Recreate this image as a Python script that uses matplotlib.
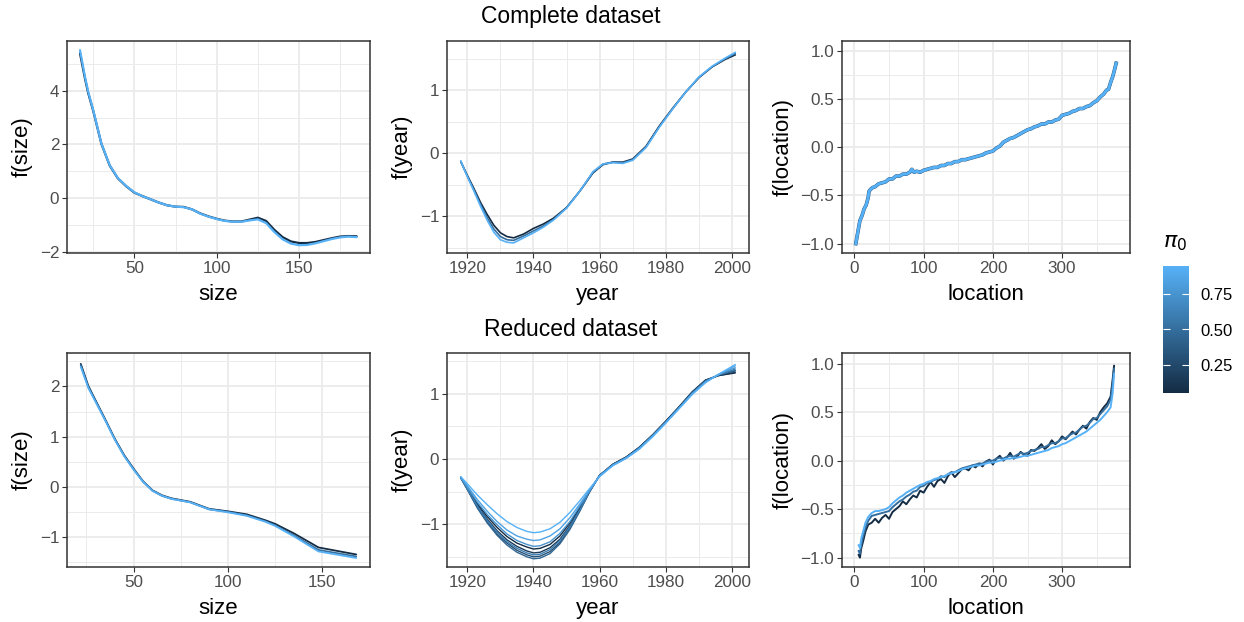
import numpy as np
import matplotlib.pyplot as plt
from matplotlib.colors import LinearSegmentedColormap, Normalize
from matplotlib.cm import ScalarMappable
from matplotlib.ticker import MultipleLocator

plt.rcParams['font.family'] = ['Liberation Sans', 'DejaVu Sans']

# ---------------- data ----------------
# complete dataset, f(size)
size_full_x = [17, 20, 22, 25, 30, 35, 40, 45, 50, 55, 60, 65, 70, 75, 80, 85, 90, 95, 100, 105,
               110, 115, 120, 125, 130, 135, 140, 145, 150, 155, 160, 165, 170, 175, 180, 185]
size_full_pi0 = [0.05, 0.95]
size_full_y = [
    [5.38, 4.45, 3.90, 3.25, 2.02, 1.22, 0.74, 0.45, 0.21, 0.08, -0.04, -0.16, -0.26, -0.31, -0.32, -0.41,
     -0.56, -0.67, -0.76, -0.83, -0.86, -0.86, -0.79, -0.72, -0.84, -1.17, -1.44, -1.60, -1.66, -1.66,
     -1.62, -1.55, -1.48, -1.42, -1.40, -1.41],
    [5.50, 4.52, 3.95, 3.28, 2.03, 1.23, 0.75, 0.46, 0.22, 0.08, -0.04, -0.16, -0.26, -0.31, -0.33, -0.41,
     -0.57, -0.68, -0.77, -0.84, -0.87, -0.87, -0.82, -0.78, -0.92, -1.25, -1.52, -1.68, -1.74, -1.73,
     -1.67, -1.59, -1.51, -1.45, -1.42, -1.44],
]

# complete dataset, f(year)
year_full_x = [1918, 1920, 1922, 1924, 1926, 1928, 1930, 1932, 1934, 1937, 1940, 1943, 1946, 1950,
               1954, 1958, 1961, 1964, 1967, 1970, 1974, 1978, 1982, 1986, 1990, 1994, 1998, 2001]
year_full_pi0 = [0.05, 0.5, 0.95]
year_full_y = [
    [-0.13, -0.35, -0.56, -0.78, -0.97, -1.14, -1.26, -1.32, -1.34, -1.28, -1.19, -1.12, -1.03, -0.86,
     -0.60, -0.31, -0.18, -0.14, -0.14, -0.09, 0.11, 0.43, 0.71, 0.97, 1.20, 1.37, 1.49, 1.56],
    [-0.13, -0.36, -0.58, -0.81, -1.02, -1.20, -1.32, -1.37, -1.38, -1.31, -1.23, -1.15, -1.05, -0.86,
     -0.60, -0.30, -0.17, -0.14, -0.15, -0.10, 0.10, 0.42, 0.70, 0.97, 1.20, 1.37, 1.50, 1.58],
    [-0.12, -0.37, -0.60, -0.84, -1.06, -1.25, -1.37, -1.41, -1.42, -1.34, -1.26, -1.17, -1.06, -0.87,
     -0.60, -0.29, -0.17, -0.15, -0.16, -0.11, 0.09, 0.41, 0.70, 0.97, 1.21, 1.38, 1.51, 1.60],
]

# complete dataset, f(location)
loc_full_x = [2, 4, 6, 8, 11, 14, 17, 20, 21, 23, 26, 30, 35, 40, 45, 50, 55, 60, 65, 70, 75, 80, 83,
              86, 90, 95, 100, 105, 110, 115, 120, 125, 130, 135, 140, 145, 150, 155, 160, 165, 170,
              175, 180, 185, 190, 195, 200, 205, 210, 215, 220, 225, 230, 235, 240, 245, 250, 255,
              260, 265, 270, 275, 280, 285, 290, 295, 300, 305, 310, 315, 320, 325, 330, 335, 340,
              345, 350, 355, 360, 364, 367, 370, 373, 376, 378]
loc_full_y = [-1.00, -0.92, -0.84, -0.76, -0.71, -0.64, -0.60, -0.52, -0.46, -0.44, -0.42, -0.41, -0.38,
              -0.37, -0.36, -0.33, -0.33, -0.30, -0.30, -0.28, -0.28, -0.26, -0.23, -0.26, -0.25, -0.26,
              -0.24, -0.23, -0.22, -0.21, -0.21, -0.19, -0.19, -0.17, -0.17, -0.15, -0.15, -0.13, -0.13,
              -0.12, -0.11, -0.10, -0.09, -0.08, -0.06, -0.05, -0.04, -0.01, 0.01, 0.05, 0.07, 0.09,
              0.10, 0.12, 0.14, 0.16, 0.18, 0.19, 0.21, 0.22, 0.24, 0.24, 0.26, 0.26, 0.28, 0.29, 0.33,
              0.34, 0.35, 0.37, 0.38, 0.40, 0.40, 0.42, 0.43, 0.46, 0.48, 0.52, 0.55, 0.59, 0.60, 0.67,
              0.73, 0.81, 0.87]

# reduced dataset, f(size)
size_red_x = [22, 26, 30, 35, 40, 45, 50, 55, 60, 65, 70, 80, 90, 100, 110, 120, 125, 135, 148, 168]
size_red_pi0 = [0.05, 0.5, 0.95]
size_red_y = [
    [2.45, 2.01, 1.71, 1.34, 0.96, 0.63, 0.36, 0.11, -0.07, -0.17, -0.23, -0.30, -0.44, -0.49, -0.55,
     -0.67, -0.74, -0.93, -1.21, -1.35],
    [2.43, 1.99, 1.70, 1.33, 0.95, 0.62, 0.35, 0.10, -0.08, -0.18, -0.24, -0.31, -0.45, -0.50, -0.57,
     -0.69, -0.77, -0.97, -1.26, -1.39],
    [2.39, 1.97, 1.68, 1.32, 0.94, 0.61, 0.34, 0.10, -0.08, -0.18, -0.24, -0.31, -0.45, -0.51, -0.58,
     -0.70, -0.78, -0.99, -1.29, -1.42],
]

# reduced dataset, f(year)
year_red_x = [1918, 1920, 1923, 1926, 1929, 1932, 1935, 1938, 1940, 1942, 1945, 1948, 1951, 1954,
              1957, 1960, 1964, 1968, 1972, 1976, 1980, 1984, 1988, 1992, 1996, 2001]
year_red_pi0 = [0.05, 0.15, 0.3, 0.45, 0.6, 0.75, 0.85, 0.95]
year_red_y = [
    [-0.28, -0.44, -0.68, -0.88, -1.05, -1.19, -1.29, -1.35, -1.38, -1.37, -1.31, -1.18, -0.98, -0.74,
     -0.48, -0.25, -0.08, 0.03, 0.18, 0.37, 0.58, 0.80, 1.03, 1.21, 1.28, 1.32],
    [-0.28, -0.45, -0.70, -0.92, -1.10, -1.24, -1.34, -1.41, -1.44, -1.43, -1.36, -1.23, -1.02, -0.76,
     -0.49, -0.25, -0.08, 0.03, 0.18, 0.37, 0.58, 0.80, 1.03, 1.21, 1.28, 1.33],
    [-0.29, -0.46, -0.74, -0.96, -1.15, -1.29, -1.40, -1.47, -1.50, -1.49, -1.42, -1.28, -1.06, -0.79,
     -0.50, -0.25, -0.09, 0.02, 0.17, 0.36, 0.57, 0.79, 1.02, 1.20, 1.29, 1.35],
    [-0.29, -0.47, -0.75, -0.98, -1.17, -1.32, -1.43, -1.50, -1.53, -1.52, -1.45, -1.30, -1.08, -0.80,
     -0.50, -0.25, -0.09, 0.02, 0.17, 0.36, 0.57, 0.79, 1.02, 1.20, 1.29, 1.36],
    [-0.29, -0.46, -0.72, -0.94, -1.12, -1.27, -1.37, -1.44, -1.47, -1.46, -1.39, -1.25, -1.04, -0.78,
     -0.49, -0.25, -0.09, 0.02, 0.17, 0.36, 0.56, 0.78, 1.01, 1.19, 1.29, 1.38],
    [-0.28, -0.43, -0.66, -0.85, -1.01, -1.15, -1.25, -1.31, -1.34, -1.33, -1.27, -1.14, -0.96, -0.72,
     -0.48, -0.26, -0.09, 0.02, 0.16, 0.35, 0.56, 0.78, 1.00, 1.18, 1.30, 1.40],
    [-0.28, -0.41, -0.62, -0.80, -0.96, -1.09, -1.18, -1.23, -1.25, -1.24, -1.18, -1.07, -0.90, -0.69,
     -0.47, -0.26, -0.10, 0.01, 0.16, 0.35, 0.56, 0.78, 1.00, 1.18, 1.30, 1.43],
    [-0.27, -0.38, -0.55, -0.70, -0.84, -0.96, -1.05, -1.11, -1.13, -1.12, -1.07, -0.97, -0.82, -0.64,
     -0.45, -0.27, -0.10, 0.01, 0.15, 0.34, 0.55, 0.77, 0.99, 1.17, 1.30, 1.45],
]

# reduced dataset, f(location)
loc_red_x = [6, 8, 10, 13, 16, 20] + list(range(25, 371, 5)) + [373, 375]
loc_red_pi0 = [0.05, 0.5, 0.95]
loc_red_y = [
    [-0.97, -1.00, -0.90, -0.82, -0.73, -0.66, -0.64, -0.60, -0.64, -0.59, -0.56, -0.60, -0.53, -0.50,
     -0.47, -0.42, -0.45, -0.40, -0.36, -0.38, -0.31, -0.33, -0.27, -0.22, -0.27, -0.21, -0.19, -0.23,
     -0.16, -0.12, -0.17, -0.13, -0.09, -0.08, -0.10, -0.05, -0.07, -0.03, -0.06, -0.01, 0.01, -0.04,
     0.02, 0.05, 0.00, 0.03, 0.08, 0.02, 0.04, 0.09, 0.06, 0.05, 0.11, 0.10, 0.13, 0.17, 0.12, 0.15,
     0.21, 0.17, 0.20, 0.25, 0.22, 0.26, 0.30, 0.27, 0.32, 0.36, 0.33, 0.40, 0.44, 0.42, 0.50, 0.55,
     0.59, 0.66, 0.84, 0.98],
    [-0.93, -0.96, -0.86, -0.77, -0.69, -0.62, -0.57, -0.56, -0.55, -0.54, -0.53, -0.52, -0.48, -0.45,
     -0.42, -0.40, -0.37, -0.35, -0.32, -0.31, -0.27, -0.26, -0.23, -0.22, -0.20, -0.19, -0.16, -0.17,
     -0.14, -0.12, -0.12, -0.10, -0.08, -0.07, -0.06, -0.05, -0.04, -0.03, -0.03, -0.01, 0.00, 0.00,
     0.02, 0.03, 0.02, 0.04, 0.05, 0.04, 0.06, 0.08, 0.07, 0.08, 0.10, 0.11, 0.12, 0.14, 0.14, 0.16,
     0.18, 0.18, 0.20, 0.23, 0.23, 0.26, 0.28, 0.29, 0.32, 0.35, 0.36, 0.39, 0.43, 0.44, 0.48, 0.52,
     0.56, 0.63, 0.80, 0.95],
    [-0.87, -0.90, -0.80, -0.72, -0.64, -0.58, -0.54, -0.52, -0.52, -0.51, -0.50, -0.48, -0.44, -0.41,
     -0.38, -0.36, -0.33, -0.31, -0.29, -0.27, -0.25, -0.24, -0.22, -0.21, -0.19, -0.18, -0.17, -0.16,
     -0.14, -0.13, -0.12, -0.11, -0.09, -0.08, -0.07, -0.06, -0.05, -0.05, -0.04, -0.03, -0.02, -0.02,
     -0.01, 0.00, 0.01, 0.02, 0.02, 0.03, 0.03, 0.04, 0.05, 0.05, 0.06, 0.07, 0.08, 0.09, 0.10, 0.11,
     0.13, 0.14, 0.15, 0.17, 0.18, 0.20, 0.22, 0.24, 0.26, 0.28, 0.30, 0.33, 0.36, 0.39, 0.42, 0.46,
     0.50, 0.55, 0.70, 0.90],
]

# ---------------- styling ----------------
cmap = LinearSegmentedColormap.from_list('gg', ['#132B43', '#56B1F7'])
norm = Normalize(vmin=0.05, vmax=0.95)


def style_axis(ax, xlim, ylim, xstep, ystep, xlabel, ylabel):
    ax.set_xlim(xlim)
    ax.set_ylim(ylim)
    ax.xaxis.set_major_locator(MultipleLocator(xstep))
    ax.xaxis.set_minor_locator(MultipleLocator(xstep / 2))
    ax.yaxis.set_major_locator(MultipleLocator(ystep))
    ax.yaxis.set_minor_locator(MultipleLocator(ystep / 2))
    ax.grid(which='major', color='#EBEBEB', lw=1.3)
    ax.grid(which='minor', color='#EBEBEB', lw=0.7)
    ax.set_axisbelow(True)
    ax.tick_params(which='minor', length=0)
    ax.tick_params(which='major', length=3.5, width=0.8, color='#333333',
                   labelcolor='#4D4D4D', labelsize=12.3, pad=2)
    for s in ax.spines.values():
        s.set_color('#333333')
        s.set_linewidth(1.1)
    ax.set_xlabel(xlabel, fontsize=16, labelpad=6)
    ax.set_ylabel(ylabel, fontsize=16, labelpad=5)


def draw_lines(ax, x, ys, pis, lw=1.0):
    for y, p in zip(ys, pis):
        ax.plot(x, y, color=cmap(norm(p)), lw=lw, solid_capstyle='round')


fig = plt.figure(figsize=(12.44, 6.22), dpi=100)
W, H = 1244, 622


def add_ax(l, t, r, b):
    return fig.add_axes([l / W, 1 - b / H, (r - l) / W, (b - t) / H])


ax1 = add_ax(67, 41, 370, 253)
ax2 = add_ax(447, 41, 749, 253)
ax3 = add_ax(842, 41, 1130, 253)
ax4 = add_ax(67, 353, 370, 567)
ax5 = add_ax(447, 353, 749, 567)
ax6 = add_ax(842, 353, 1130, 567)

draw_lines(ax1, size_full_x, size_full_y, size_full_pi0, lw=1.6)
style_axis(ax1, (9.1, 193.1), (-2.03, 5.84), 50, 2, 'size', 'f(size)')

draw_lines(ax2, year_full_x, year_full_y, year_full_pi0, lw=1.2)
style_axis(ax2, (1913.85, 2005.15), (-1.58, 1.78), 20, 1, 'year', 'f(year)')

ax3.plot(loc_full_x, loc_full_y, color=cmap(norm(0.3)), lw=2.6)
ax3.plot(loc_full_x, loc_full_y, color=cmap(norm(0.95)), lw=2.1)
style_axis(ax3, (-17.9, 398), (-1.097, 1.10), 100, 0.5, 'location', 'f(location)')

draw_lines(ax4, size_red_x, size_red_y, size_red_pi0, lw=1.3)
style_axis(ax4, (14.7, 175.3), (-1.6, 2.667), 50, 1, 'size', 'f(size)')

draw_lines(ax5, year_red_x, year_red_y, year_red_pi0, lw=1.0)
style_axis(ax5, (1913.85, 2005.15), (-1.656, 1.626), 20, 1, 'year', 'f(year)')

draw_lines(ax6, loc_red_x, loc_red_y, loc_red_pi0, lw=1.4)
style_axis(ax6, (-17.9, 398), (-1.097, 1.11), 100, 0.5, 'location', 'f(location)')

fig.text(571 / W, 1 - 17 / H, 'Complete dataset', ha='center', va='center', fontsize=16.5)
fig.text(571 / W, 1 - 330 / H, 'Reduced dataset', ha='center', va='center', fontsize=16.5)

# colour bar for pi0
cax = fig.add_axes([1163 / W, 1 - 393 / H, 26 / W, 127 / H])
cb = fig.colorbar(ScalarMappable(norm=norm, cmap=cmap), cax=cax)
cb.outline.set_visible(False)
cb.set_ticks([0.25, 0.5, 0.75])
cb.ax.tick_params(direction='in', length=5, width=0.8, color='white', left=True, right=True,
                  labelsize=12, labelcolor='black', pad=8)
fig.text(1163 / W, 1 - 243 / H, r'$\pi_0$', ha='left', va='center', fontsize=16)

plt.savefig('out.png', dpi=100)
